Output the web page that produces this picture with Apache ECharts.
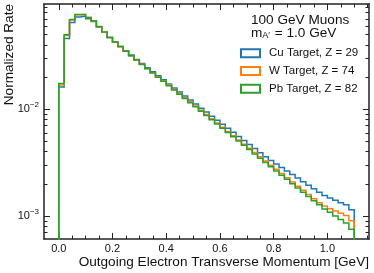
<!DOCTYPE html>
<html><head><meta charset="utf-8">
<script src="https://cdn.jsdelivr.net/npm/echarts@6/dist/echarts.min.js"></script>
<style>html,body{margin:0;padding:0;background:#fff}#c{width:374px;height:273px}</style>
</head><body><div id="c"></div>
<script>
// bin edges (GeV)
const binEdges = [0,0.02,0.04,0.06,0.08,0.1,0.12,0.14,0.16,0.18,0.2,0.22,0.24,0.26,0.28,0.3,0.32,0.34,0.36,0.38,
  0.4,0.42,0.44,0.46,0.48,0.5,0.52,0.54,0.56,0.58,0.6,0.62,0.64,0.66,0.68,0.7,0.72,0.74,0.76,0.78,
  0.8,0.82,0.84,0.86,0.88,0.9,0.92,0.94,0.96,0.98,1.0,1.02,1.04,1.06,1.08,1.1];
const seriesNames = ['Cu Target, Z = 29','W Target, Z = 74','Pb Target, Z = 82'];
const cuRate = [0.0161,0.0459,0.0649,0.0728,0.0744,0.0702,0.0660,0.0588,0.0524,0.0469,
  0.0426,0.0387,0.0352,0.0321,0.0292,0.0267,0.0244,0.0224,0.0205,0.0188,
  0.0172,0.0158,0.0145,0.0133,0.0122,0.0112,0.0102,0.00938,0.00859,0.00787,
  0.00721,0.00661,0.00606,0.00555,0.00508,0.00466,0.00427,0.00391,0.00359,0.00330,
  0.00306,0.00284,0.00263,0.00244,0.00226,0.00209,0.00194,0.00180,0.00167,0.00155,
  0.00147,0.00140,0.00133,0.00127,0.00114];
const wRate = [0.0168,0.0490,0.0683,0.0765,0.0768,0.0720,0.0670,0.0592,0.0526,0.0468,
  0.0424,0.0384,0.0349,0.0317,0.0288,0.0263,0.0240,0.0219,0.0200,0.0183,
  0.0168,0.0153,0.0140,0.0128,0.0117,0.0107,0.00976,0.00891,0.00812,0.00741,
  0.00677,0.00618,0.00564,0.00515,0.00470,0.00430,0.00392,0.00358,0.00327,0.00298,
  0.00273,0.00250,0.00228,0.00208,0.00190,0.00174,0.00159,0.00145,0.00133,0.00124,
  0.00117,0.00111,0.00106,0.00101,0.000900];
const pbRate = [0.0174,0.0497,0.0690,0.0770,0.0770,0.0722,0.0672,0.0594,0.0527,0.0469,
  0.0425,0.0385,0.0349,0.0317,0.0288,0.0262,0.0239,0.0218,0.0199,0.0182,
  0.0166,0.0151,0.0138,0.0126,0.0115,0.0105,0.00956,0.00872,0.00795,0.00725,
  0.00661,0.00603,0.00550,0.00502,0.00458,0.00418,0.00381,0.00347,0.00317,0.00289,
  0.00264,0.00241,0.00220,0.00200,0.00183,0.00167,0.00152,0.00139,0.00127,0.00116,
  0.00108,0.00100,0.000925,0.000860,0.000750];
const xMajorTicks = [0,0.2,0.4,0.6,0.8,1.0];
const xMinorTicks = [0.05,0.1,0.15,0.25,0.3,0.35,0.45,0.5,0.55,0.65,0.7,0.75,0.85,0.9,0.95,1.05,1.1,1.15];
const yMajorTicks = [0.001,0.01];
const yMinorTicks = [0.0007,0.0008,0.0009,0.002,0.003,0.004,0.005,0.006,0.007,0.008,0.009,
  0.02,0.03,0.04,0.05,0.06,0.07,0.08,0.09];
const colors = ['#1f77b4','#ff7f0e','#2ca02c'];

const X_MIN = -0.055, X_MAX = 1.155, Y_MIN = 6.08e-4, Y_MAX = 0.0965, FLOOR = 1e-5;
const FONT = 'Liberation Sans';

function stairs(vals){
  const pts = [[binEdges[0], FLOOR]];
  for (let i = 0; i < vals.length; i++) pts.push([binEdges[i], vals[i]]);
  pts.push([binEdges[vals.length], vals[vals.length-1]]);
  pts.push([binEdges[vals.length], FLOOR]);
  return pts;
}
const allRates = [cuRate, wRate, pbRate];

const frame = {show:true, onZero:false, lineStyle:{color:'#222', width:1.5}};
const noLine = {show:false, onZero:false};
function xAx(grid, pos, ticks, len, labels, line){
  return {gridIndex:grid, type:'value', position:pos, min:X_MIN, max:X_MAX, splitLine:{show:false},
    axisLine: line ? frame : noLine,
    axisTick:{show:true, inside:true, length:len, customValues:ticks, lineStyle:{color:'#222', width:1}},
    axisLabel: labels ? {show:true, customValues:ticks, margin:4, fontFamily:FONT, fontSize:11, color:'#111',
      formatter:v=>v.toFixed(1)} : {show:false}};
}
function yAx(grid, pos, ticks, len, labels, line){
  return {gridIndex:grid, type:'log', position:pos, min:Y_MIN, max:Y_MAX, splitLine:{show:false}, minorTick:{show:false},
    axisLine: line ? frame : noLine,
    axisTick:{show:true, inside:true, length:len, customValues:ticks, lineStyle:{color:'#222', width:1}},
    axisLabel: labels ? {show:true, customValues:ticks, margin:5, fontFamily:FONT, color:'#111',
      formatter:v=>'{b|10}{s|−' + Math.round(-Math.log10(v)) + '}',
      rich:{b:{fontSize:11, fontFamily:FONT, color:'#111'}, s:{fontSize:8, fontFamily:FONT, color:'#111', padding:[0,0,8,0]}}} : {show:false}};
}
const gridRect = {left:44, top:4, right:5, bottom:34, containLabel:false};

const chart = echarts.init(document.getElementById('c'), null, {renderer:'canvas'});
chart.setOption({
  animation:false,
  backgroundColor:'#fff',
  grid:[Object.assign({}, gridRect), Object.assign({}, gridRect)],
  xAxis:[xAx(0,'bottom', xMajorTicks, 6, true, true), xAx(0,'top', xMajorTicks, 6, false, true),
         xAx(1,'bottom', xMinorTicks, 3.5, false, false), xAx(1,'top', xMinorTicks, 3.5, false, false)],
  yAxis:[yAx(0,'left', yMajorTicks, 6, true, true), yAx(0,'right', yMajorTicks, 6, false, true),
         yAx(1,'left', yMinorTicks, 3.5, false, false), yAx(1,'right', yMinorTicks, 3.5, false, false)],
  legend:{orient:'vertical', left:240, top:46.3, padding:0, itemGap:3.7, itemWidth:19, itemHeight:8,
    textStyle:{fontFamily:FONT, fontSize:11.5, color:'#111', lineHeight:14, padding:[0,0,0,4]},
    data: seriesNames.map(n=>({name:n, icon:'emptyRect'}))},
  series: seriesNames.map((n,i)=>({
    name:n, type:'line', step:'end', showSymbol:false, symbol:'none', clip:true,
    xAxisIndex:0, yAxisIndex:0, z:2+i,
    lineStyle:{color:colors[i], width:1.5, join:'miter'}, itemStyle:{color:colors[i]},
    data: stairs(allRates[i])
  })),
  graphic:[
    {type:'text', left:251, top:13, style:{text:'100 GeV Muons', font:'13.6px "Liberation Sans"', fill:'#111'}},
    {type:'text', left:251, top:26, style:{text:"{m|m}{sub|A′} = 1.0 GeV", font:'13.6px "Liberation Sans"', fill:'#111',
      rich:{m:{fontSize:13.6, fontFamily:FONT}, sub:{fontSize:9, fontFamily:FONT, padding:[5,1,0,0]}}}},
    {type:'text', x:369, y:262, style:{text:'Outgoing Electron Transverse Momentum [GeV]', font:'13.6px "Liberation Sans"', fill:'#111', textAlign:'right', textVerticalAlign:'middle'}},
    {type:'text', x:9, y:4, rotation:Math.PI/2, style:{text:'Normalized Rate', font:'13.6px "Liberation Sans"', fill:'#111', textAlign:'right', textVerticalAlign:'middle'}}
  ]
});
</script></body></html>
